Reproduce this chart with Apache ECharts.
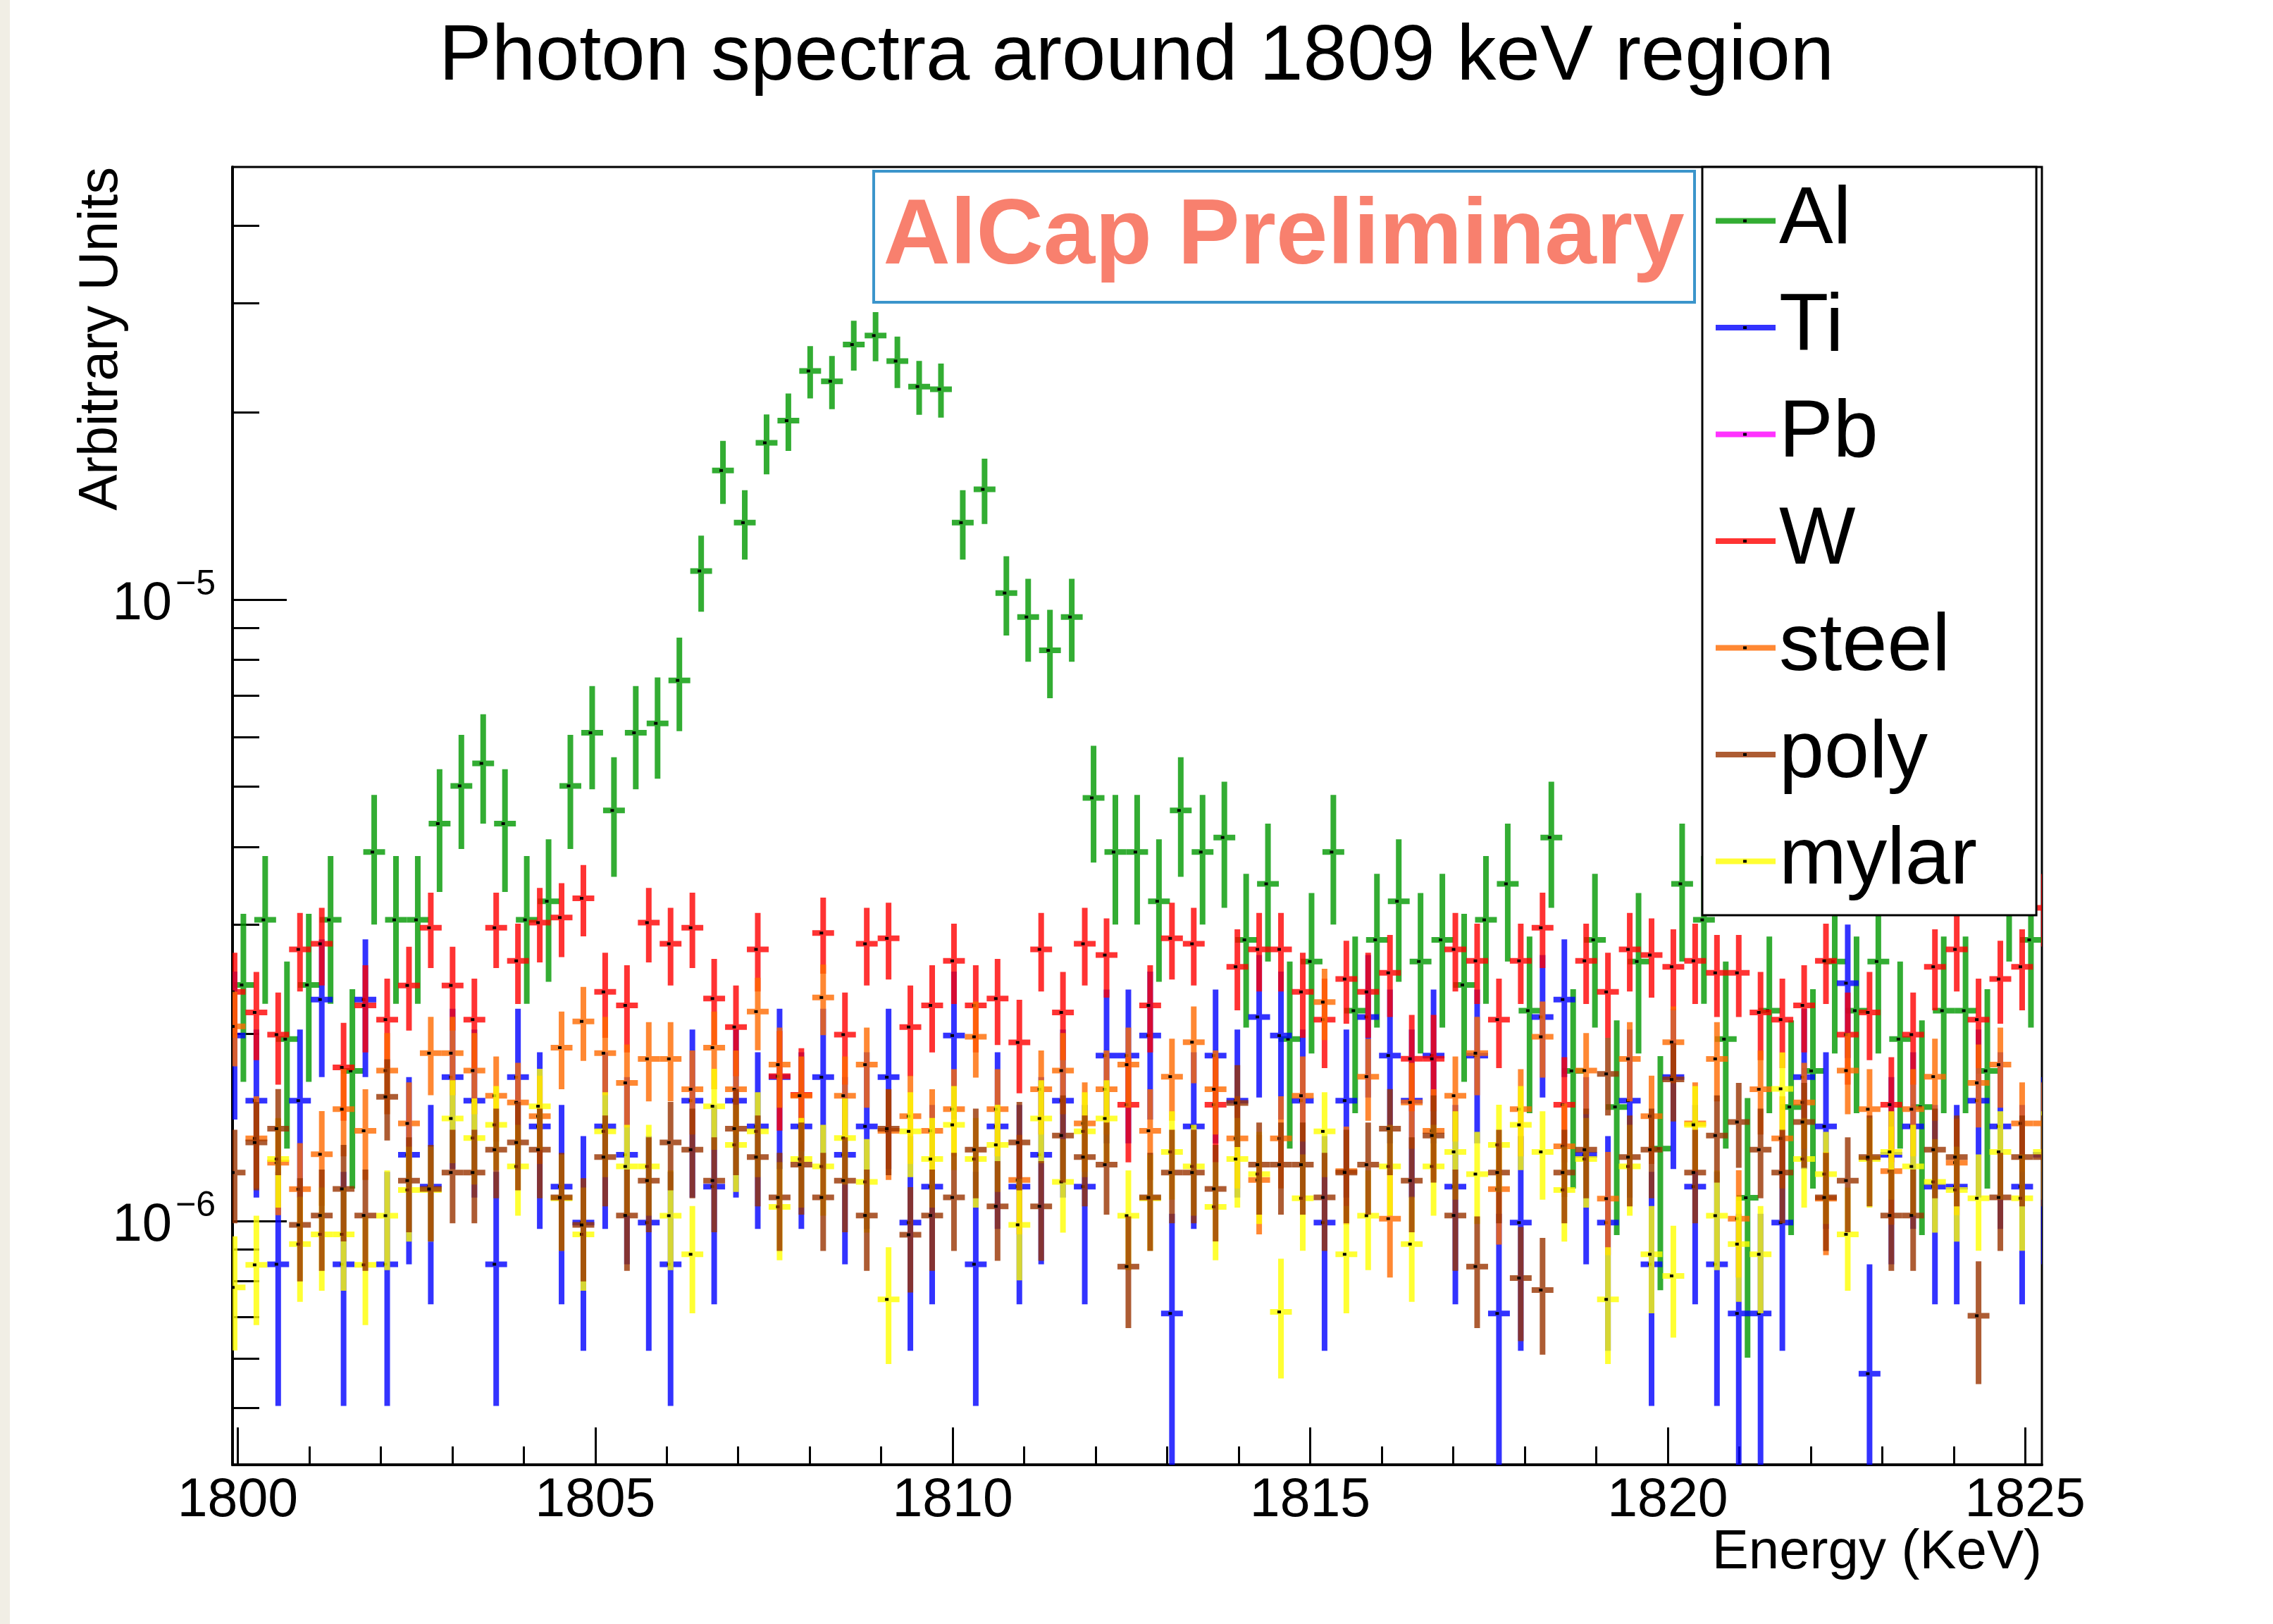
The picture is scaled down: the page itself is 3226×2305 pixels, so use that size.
<!DOCTYPE html>
<html><head><meta charset="utf-8">
<script src="https://cdn.jsdelivr.net/npm/echarts@6/dist/echarts.min.js"></script>
<style>html,body{margin:0;padding:0;background:#fff}#c{width:3226px;height:2305px}</style>
</head><body><div id="c"></div>
<script>
// ---------------- data ----------------
const seriesNames = ['Al', 'Ti', 'Pb', 'W', 'steel', 'poly', 'mylar'];
const binWidth = 0.3049;                 // keV per bin
const alFirstBinCenter = 1800.079;        // keV
const otherFirstBinCenter = 1799.956;     // keV
// counts per bin
const alCounts = [11,14,9,11,14,8,18,14,14,20, 23,25,20,14,15,23,28,21,28,29,
  34,51,74,61,82,89,107,103,118,122, 111,101,100,61,69,47,43,38,43,22,
  18,18,15,21,18,19,13,16,9,12, 18,10,13,15,12,13,11,14,16,10,
  19,8,13,7,12,6,16,14,9,5, 10,7,8,12,10,12,9,7,10,10, 8,16,13];
const tiCounts = [14,11,6,11,16,6,16,6,9,8, 12,11,6,12,10,8,7,10,9,7,
  6,11,8,11,10,12,10,12,9,10, 12,7,8,14,6,10,8,9,11,8,
  13,13,14,5,10,13,11,15,14,11, 7,11,15,13,11,13,8,13,5,7,
  15,16,9,7,11,6,12,8,6,5, 5,7,12,10,17,4,9,10,8,8, 11,10,8,9];
const pbCounts = [];
const wCounts = [41,38,35,48,49,31,39,37,42,52, 42,37,52,46,53,54,58,41,39,53,
  49,52,40,36,48,30,28,51,35,49, 50,36,39,46,39,40,34,48,38,49,
  47,27,39,50,49,27,45,48,48,41, 37,43,41,44,32,32,48,46,37,46,
  52,27,46,41,48,47,45,46,44,44, 38,37,39,46,35,38,27,35,45,48, 37,43,45,56];
const steelCounts = [53,35,32,29,33,39,36,45,37,48, 48,45,41,40,38,49,54,48,43,47,
  47,42,49,42,56,46,41,59,41,46, 36,38,36,39,51,39,30,42,45,37,
  42,46,36,44,50,42,35,30,35,41, 58,31,44,26,40,36,41,48,29,39,
  51,34,45,28,47,38,50,37,47,26, 42,35,40,28,45,39,31,39,44,32, 43,46,37,37];
const polyCounts = [34,38,40,28,29,32,29,45,33,32, 34,34,37,38,37,31,28,36,29,33,
  38,37,33,40,36,31,35,31,33,29, 40,27,29,31,37,30,38,30,39,36,
  35,24,31,34,34,32,44,35,35,35, 31,34,35,40,33,39,29,24,34,23,
  22,34,37,49,36,37,48,34,39,41, 37,34,41,31,33,36,29,29,37,36, 20,31,36,36];
const mylarCounts = [23,25,37,27,28,28,25,30,33,33, 43,40,42,36,45,32,28,41,36,36,
  30,26,45,39,41,31,37,36,40,34, 22,41,37,42,37,39,29,43,34,41,
  43,30,32,38,36,31,37,35,21,32, 41,26,30,36,27,36,38,35,39,42,
  38,33,37,22,36,26,24,42,30,27, 26,48,37,35,28,37,38,36,34,33, 32,38,32,38];
// arbitrary units per count
const countWeights = {Al: 2.18e-7, Ti: 1.42e-7, Pb: 1.0e-7, W: 5.7e-8, steel: 3.88e-8, poly: 3.52e-8, mylar: 3.40e-8};
const xRange = [1799.927, 1825.234];
const yRange = [4.053e-7, 4.967e-5];
const xMajorTicks = [1800, 1805, 1810, 1815, 1820, 1825];
const xMinorTicks = [1801,1802,1803,1804,1806,1807,1808,1809,1811,1812,1813,1814,1816,1817,1818,1819,1821,1822,1823,1824];
const yMajorTicks = [1e-6, 1e-5];
const yMinorTicks = [5e-7,6e-7,7e-7,8e-7,9e-7,2e-6,3e-6,4e-6,5e-6,6e-6,7e-6,8e-6,9e-6,2e-5,3e-5,4e-5];
const colors = {Al:'rgba(0,153,0,0.8)', Ti:'rgba(0,0,255,0.8)', Pb:'rgba(255,0,255,0.8)', W:'rgba(255,0,0,0.8)',
  steel:'rgba(255,106,0,0.8)', poly:'rgba(153,51,0,0.8)', mylar:'rgba(255,255,0,0.8)'};

// ---------------- build ----------------
const F = '"Liberation Sans", Arial, Helvetica, sans-serif';
const lg = Math.log10;
function buildData(counts, firstCenter, w) {
  const out = [];
  counts.forEach((n, k) => {
    if (!(n > 0)) return;
    const x = firstCenter + k * binWidth;
    const v = n * w, e = Math.sqrt(n) * w, lo = v - e;
    out.push([x, lg(v), lo > 0 ? lg(lo) : -99, lg(v + e)]);
  });
  return out;
}
const seriesData = {
  Al: buildData(alCounts, alFirstBinCenter, countWeights.Al),
  Ti: buildData(tiCounts, otherFirstBinCenter, countWeights.Ti),
  Pb: buildData(pbCounts, otherFirstBinCenter, countWeights.Pb),
  W: buildData(wCounts, otherFirstBinCenter, countWeights.W),
  steel: buildData(steelCounts, otherFirstBinCenter, countWeights.steel),
  poly: buildData(polyCounts, otherFirstBinCenter, countWeights.poly),
  mylar: buildData(mylarCounts, otherFirstBinCenter, countWeights.mylar)
};

function renderErrorCross(params, api) {
  const cs = params.coordSys;
  const L = cs.x, R = cs.x + cs.width, T = cs.y, B = cs.y + cs.height;
  const x = api.value(0);
  const c = api.coord([x, api.value(1)]);
  const yHi = api.coord([x, api.value(3)])[1];
  const yLo = api.coord([x, Math.max(api.value(2), -20)])[1];
  const half = api.size([binWidth, 0])[0] / 2;
  const t = 4;
  const cx = c[0], cy = c[1];
  const top = Math.min(yHi, cy - t), bot = Math.max(yLo, cy + t);
  const cl = p => [Math.min(R, Math.max(L, p[0])), Math.min(B, Math.max(T, p[1]))];
  const pts = [[cx - t, top], [cx + t, top], [cx + t, cy - t], [cx + half, cy - t], [cx + half, cy + t], [cx + t, cy + t],
    [cx + t, bot], [cx - t, bot], [cx - t, cy + t], [cx - half, cy + t], [cx - half, cy - t], [cx - t, cy - t]].map(cl);
  const children = [{type: 'polygon', shape: {points: pts}, style: {fill: api.visual('color')}}];
  if (cx >= L && cx <= R && cy >= T && cy <= B) {
    children.push({type: 'rect', shape: {x: cx - 5, y: cy - 2, width: 5, height: 4}, style: {fill: '#000'}});
  }
  return {type: 'group', children};
}

const drawOrder = ['Al', 'Ti', 'Pb', 'W', 'steel', 'mylar', 'poly'];
const series = drawOrder.map(name => ({
  name, type: 'custom', xAxisIndex: 0, yAxisIndex: 0,
  itemStyle: {color: colors[name]},
  renderItem: renderErrorCross,
  encode: {x: 0, y: [1, 2, 3]},
  data: seriesData[name],
  clip: true, silent: true
}));

const yMin = lg(yRange[0]), yMax = lg(yRange[1]);
const legendTop = 237, legendPadTop = 19, legendFont = 115, legendGap = 36.5, legendLineCenterX = 2477;
const legendMarks = seriesNames.map((n, i) => ({
  type: 'rect', z: 30,
  shape: {x: legendLineCenterX - 3, y: legendTop + legendPadTop + legendFont / 2 + i * (legendFont + legendGap) - 2, width: 5, height: 4},
  style: {fill: '#000'}
}));

const chart = echarts.init(document.getElementById('c'), null, {renderer: 'canvas'});
chart.setOption({
  animation: false,
  backgroundColor: '#fff',
  title: {
    text: 'Photon spectra around 1809 keV region', left: 'center', top: 26, padding: 0,
    textStyle: {fontSize: 112, fontWeight: 'normal', fontFamily: F, color: '#000'}
  },
  grid: {left: 330, right: 328, top: 237, bottom: 226, show: true, borderColor: '#000', borderWidth: 3,
    backgroundColor: '#fff', containLabel: false, outerBoundsMode: 'none'},
  legend: {
    data: seriesNames, orient: 'vertical', left: 2416, top: legendTop, z: 10,
    padding: [legendPadTop, 84, 19, 19], itemGap: legendGap, itemWidth: 85, itemHeight: 8, itemTextGap: 28,
    icon: 'rect', selectedMode: false,
    backgroundColor: '#fff', borderColor: '#000', borderWidth: 3,
    textStyle: {fontSize: legendFont, lineHeight: legendFont, color: '#000', fontFamily: F}
  },
  xAxis: [{
    type: 'value', min: xRange[0], max: xRange[1], position: 'bottom',
    name: 'Energy (KeV)', nameLocation: 'end', nameGap: 0, nameMoveOverlap: false,
    nameTextStyle: {fontSize: 78, fontFamily: F, color: '#000', align: 'right', verticalAlign: 'top', padding: [86, 0, 0, 0]},
    axisLine: {show: true, lineStyle: {color: '#000', width: 4}},
    axisTick: {show: true, inside: true, length: 53, lineStyle: {color: '#000', width: 3}, customValues: xMajorTicks},
    axisLabel: {show: true, margin: 13, fontSize: 77, fontFamily: F, color: '#000', customValues: xMajorTicks, formatter: v => String(Math.round(v))},
    splitLine: {show: false}
  }, {
    type: 'value', min: xRange[0], max: xRange[1], position: 'bottom', offset: 0,
    axisLine: {show: false},
    axisTick: {show: true, inside: true, length: 26, lineStyle: {color: '#000', width: 3}, customValues: xMinorTicks},
    axisLabel: {show: false}, splitLine: {show: false}
  }],
  yAxis: [{
    type: 'value', min: yMin, max: yMax, position: 'left',
    name: 'Arbitrary Units', nameLocation: 'end', nameGap: 0, nameRotate: 90, nameMoveOverlap: false,
    nameTextStyle: {fontSize: 77, fontFamily: F, color: '#000', align: 'right', verticalAlign: 'bottom', padding: [0, 0, 147, 0]},
    axisLine: {show: true, lineStyle: {color: '#000', width: 4}},
    axisTick: {show: true, inside: true, length: 77, lineStyle: {color: '#000', width: 3}, customValues: yMajorTicks.map(lg)},
    axisLabel: {
      show: true, margin: 24, customValues: yMajorTicks.map(lg),
      formatter: v => '{b|10}{s|\u2212' + Math.round(-v) + '}',
      rich: {
        b: {fontSize: 76, lineHeight: 76, fontFamily: F, color: '#000', padding: [14, 0, 0, 0]},
        s: {fontSize: 50, lineHeight: 50, fontFamily: F, color: '#000', padding: [7, 0, 49, 5]}
      }
    },
    splitLine: {show: false}
  }, {
    type: 'value', min: yMin, max: yMax, position: 'left', offset: 0,
    axisLine: {show: false},
    axisTick: {show: true, inside: true, length: 38, lineStyle: {color: '#000', width: 3}, customValues: yMinorTicks.map(lg)},
    axisLabel: {show: false}, splitLine: {show: false}
  }],
  graphic: [
    {type: 'rect', z: -1, shape: {x: 0, y: 0, width: 14, height: 2305}, style: {fill: '#f1eee5'}},
    {type: 'rect', z: 20, shape: {x: 1240, y: 243, width: 1165, height: 186},
      style: {fill: '#fff', stroke: '#3b95cb', lineWidth: 4}},
    {type: 'text', z: 21, x: 1822, y: 338,
      style: {text: 'AlCap Preliminary', font: 'bold 132px "Liberation Sans", Arial, sans-serif', fill: '#f8806e',
        textAlign: 'center', textVerticalAlign: 'middle', align: 'center', verticalAlign: 'middle'}}
  ].concat(legendMarks),
  series
});
</script></body></html>
